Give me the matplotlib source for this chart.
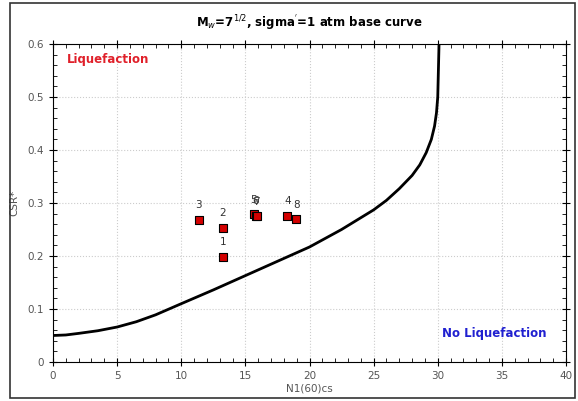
import matplotlib
matplotlib.use("Agg")
from matplotlib import pyplot as plt
from matplotlib.patches import Rectangle
from matplotlib.ticker import MultipleLocator

# base curve
curve_n = [0, 1, 2, 3.5, 5, 6.5, 8, 10, 12.5, 15, 17.5, 20, 22.5, 25, 26, 27, 28,
           28.6, 29.1, 29.5, 29.75, 29.9, 30.0, 30.05, 30.1]
curve_csr = [0.05, 0.051, 0.054, 0.059, 0.066, 0.076, 0.089, 0.110, 0.136, 0.163,
             0.19, 0.217, 0.25, 0.287, 0.305, 0.327, 0.352, 0.372, 0.395, 0.42,
             0.445, 0.47, 0.50, 0.55, 0.60]

# test points
labels = ["1", "2", "3", "5", "6", "7", "4", "8"]
pts_n = [13.28, 13.23, 11.38, 15.67, 15.8, 15.88, 18.27, 18.97]
pts_csr = [0.199, 0.253, 0.268, 0.279, 0.276, 0.275, 0.276, 0.269]

fig = plt.figure(figsize=(5.78, 4.01), dpi=100)
fig.patches.append(Rectangle((10 / 578, 3 / 401), 565 / 578, 395 / 401,
                             transform=fig.transFigure, fill=False,
                             edgecolor="#333333", linewidth=1.2))
ax = fig.add_axes([53 / 578, 1 - 362 / 401, 513 / 578, 318 / 401])

ax.plot(curve_n, curve_csr, color="black", linewidth=2)
ax.scatter(pts_n, pts_csr, marker="s", s=38, color="#d40000",
           edgecolors="black", linewidths=0.8, zorder=3)
for lab, n, c in zip(labels, pts_n, pts_csr):
    ax.text(n, c + 0.018, lab, fontsize=7.5, color="#333333",
            ha="center", va="bottom")

ax.text(4.3, 0.57, "Liquefaction", color="#e0202a", fontsize=8.5,
        fontweight="bold", ha="center", va="center")
ax.text(34.4, 0.053, "No Liquefaction", color="#2020d0", fontsize=8.5,
        fontweight="bold", ha="center", va="center")

ax.set_xlim(0, 40)
ax.set_ylim(0, 0.6)
ax.xaxis.set_major_locator(MultipleLocator(5))
ax.xaxis.set_minor_locator(MultipleLocator(1))
ax.yaxis.set_minor_locator(MultipleLocator(0.02))
ax.set_yticks([0, 0.1, 0.2, 0.3, 0.4, 0.5, 0.6])
ax.set_yticklabels(["0", "0.1", "0.2", "0.3", "0.4", "0.5", "0.6"])
ax.tick_params(which="major", direction="inout", length=6, top=True, right=True,
               labelsize=7.5, labelcolor="#555555")
ax.tick_params(which="minor", direction="in", length=3, top=True, right=True)
ax.grid(True, which="major", color="#cccccc", linestyle=":", linewidth=0.8)

ax.set_xlabel("N1(60)cs", fontsize=7.5, color="#555555", labelpad=2)
ax.set_ylabel("CSR*", fontsize=7.5, color="#555555", labelpad=6)
ax.set_title("M$_w$=7$^{1/2}$, sigma$^{'}$=1 atm base curve", fontsize=8.5,
             fontweight="bold", pad=12)

fig.savefig("out.png", dpi=100)
